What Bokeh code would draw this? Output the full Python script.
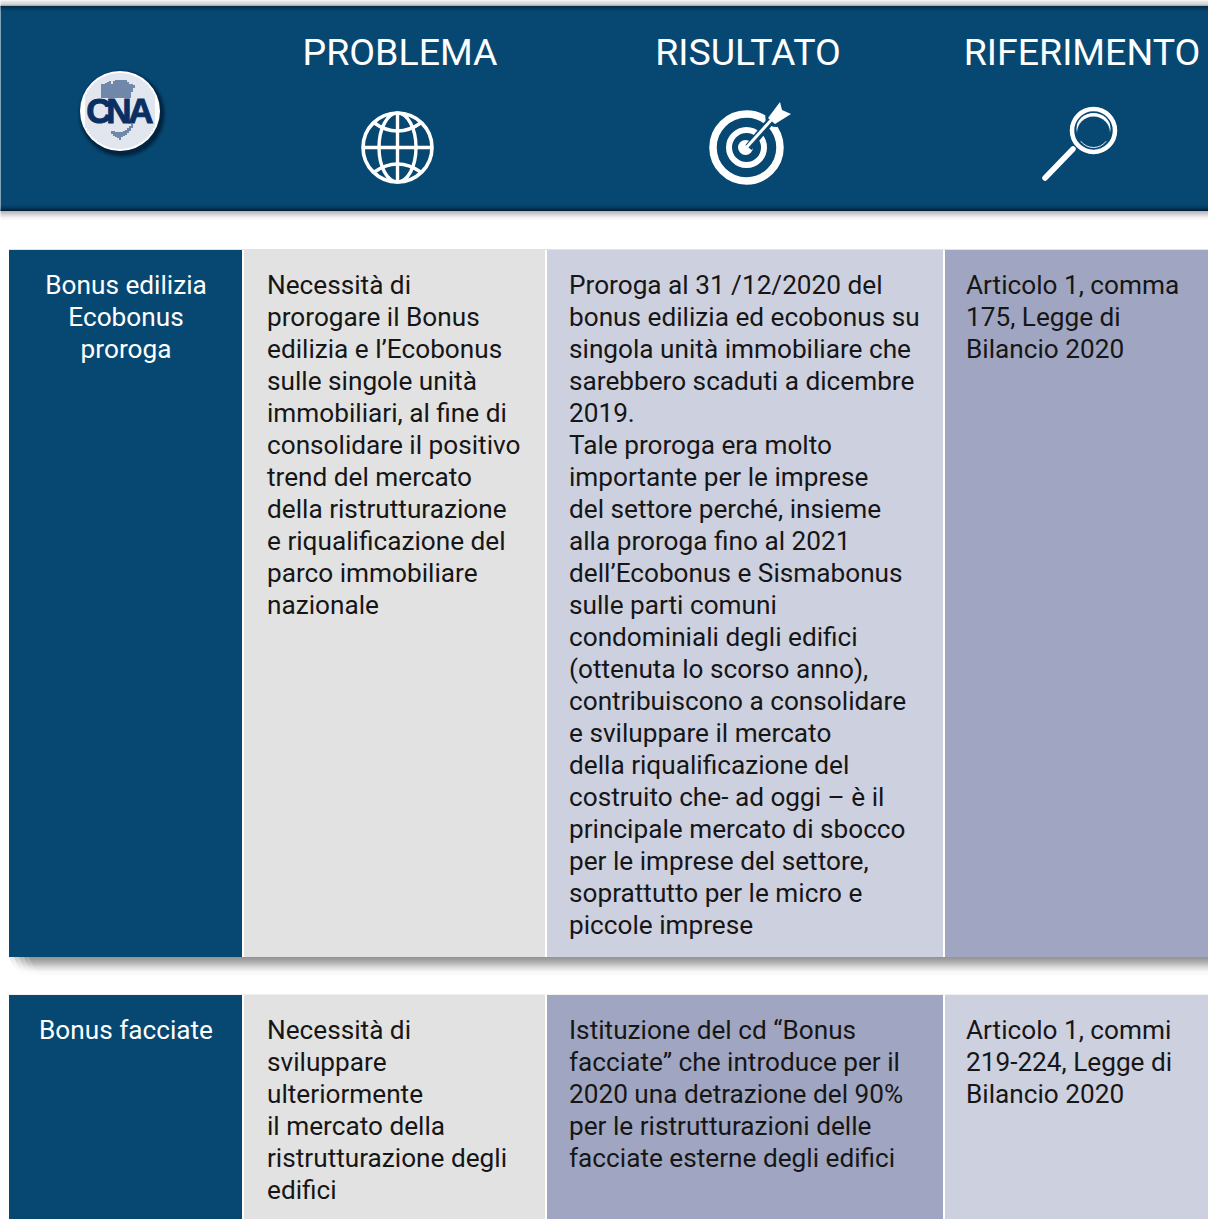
from bokeh.plotting import figure
from bokeh.embed import file_html
from bokeh.resources import INLINE
from bokeh.core.properties import value

FONT = "Roboto"
NAVY = "#074872"
GREY = "#e2e2e2"
LIGHT = "#cdd0df"
MID = "#a0a6c1"

headers = ["PROBLEMA", "RISULTATO", "RIFERIMENTO"]
header_x = [400, 748, 1082]

col_edges = [(9, 242), (244, 545), (547, 943), (945, 1209)]
row_edges = [(250, 957), (995, 1220)]
row_colors = [[NAVY, GREY, LIGHT, MID], [NAVY, GREY, MID, LIGHT]]

row1_c1 = ["Bonus edilizia", "Ecobonus", "proroga"]
row1_c2 = ["Necessità di", "prorogare il Bonus", "edilizia  e l’Ecobonus", "sulle singole unità",
           "immobiliari, al fine di", "consolidare il positivo", "trend del mercato",
           "della ristrutturazione", "e riqualificazione del", "parco immobiliare", "nazionale"]
row1_c3 = ["Proroga al 31 /12/2020 del", "bonus edilizia ed ecobonus su", "singola unità immobiliare che",
           "sarebbero scaduti a dicembre", "2019.", "Tale proroga era molto", "importante per le imprese",
           "del settore perché, insieme", "alla proroga fino al 2021", "dell’Ecobonus e Sismabonus",
           "sulle parti comuni", "condominiali degli edifici", "(ottenuta lo scorso anno),",
           "contribuiscono a consolidare", "e sviluppare il mercato", "della riqualificazione del",
           "costruito che- ad oggi – è il", "principale mercato di sbocco", "per le imprese del settore,",
           "soprattutto per le micro e", "piccole imprese"]
row1_c4 = ["Articolo 1, comma", "175, Legge di", "Bilancio 2020"]
row2_c1 = ["Bonus facciate"]
row2_c2 = ["Necessità di", "sviluppare", "ulteriormente", "il mercato della", "ristrutturazione degli", "edifici"]
row2_c3 = ["Istituzione del cd “Bonus", "facciate” che introduce per il", "2020 una detrazione del 90%",
           "per le ristrutturazioni delle", "facciate esterne degli edifici"]
row2_c4 = ["Articolo 1, commi", "219-224, Legge di", "Bilancio 2020"]

p = figure(width=1208, height=1219, x_range=(0.5, 1208.5), y_range=(1219.5, 0.5),
           output_backend="svg", toolbar_location=None, min_border=0,
           background_fill_color="white", border_fill_color="white", outline_line_color=None)
p.axis.visible = False
p.grid.visible = False


def strip(x0, x1, y0, y1, color, alpha):
    p.quad(left=x0, right=x1, top=y0, bottom=y1, fill_color=color, fill_alpha=alpha, line_color=None)


# shadow above the header band
for y, a in [(0, .12), (1, .13), (2, .16), (3, .2), (4, .28), (5, .42)]:
    strip(0, 1209, y, y + 1, "#404050", a)
# header band
strip(0, 1209, 6, 211, NAVY, 1)
for i, a in enumerate([.5, .38, .26, .17, .1, .05]):
    strip(0, 1209, 6 + i, 7 + i, "#001020", a)
for i, a in enumerate([.65, .45, .3, .2, .12, .06]):
    strip(0, 1209, 210 - i, 211 - i, "#000814", a)
for i, a in enumerate([.42, .36, .3, .24, .18, .13, .08, .05, .03]):
    strip(0, 1209, 211 + i, 212 + i, "#505060", a)

# shadow under the first table row, feathered at its left end
for i, a in enumerate([.6, .56, .52, .47, .43, .38, .33, .29, .24, .2, .16, .12, .09, .06, .04, .02, .01, .01]):
    for k in range(5):
        strip(9 + i / 2 + 5 * k, 1209, 957 + i, 958 + i, "#505050", a / 3.4 if k else a / 5)
strip(9, 1209, 249, 250, "#c8c8cc", .5)
strip(9, 1209, 994, 995, "#d0d0d4", .3)

# table cells
for (y0, y1), colors in zip(row_edges, row_colors):
    for (x0, x1), c in zip(col_edges, colors):
        strip(x0, x1, y0, y1, c, 1)

# header titles
p.text(x=header_x, y=[51.5] * 3, text=headers, text_font=value(FONT), text_font_size="37.5px",
       text_color="white", text_align="center", text_baseline="alphabetic")


def lines(items, x, y0, color="#161616", align="left"):
    p.text(x=[x] * len(items), y=[y0 + 32 * i for i in range(len(items))], text=items,
           text_font=value(FONT), text_font_size="26.2px", text_color=color,
           text_align=align, text_baseline="alphabetic")


lines(row1_c1, 126, 284.5, "white", "center")
lines(row1_c2, 267, 284.5)
lines(row1_c3, 569, 284.5)
lines(row1_c4, 966, 284.5)
lines(row2_c1, 126, 1029.5, "white", "center")
lines(row2_c2, 267, 1029.5)
lines(row2_c3, 569, 1029.5)
lines(row2_c4, 966, 1029.5)

# globe icon
gx, gy = 397.5, 147.5
W = "white"
p.ellipse(x=gx, y=gy, width=69, height=69, fill_color=None, line_color=W, line_width=3.6)
p.ellipse(x=gx, y=gy, width=37, height=69, fill_color=None, line_color=W, line_width=3.4)
p.segment(x0=gx, y0=gy - 35, x1=gx, y1=gy + 35, line_color=W, line_width=3.4)
p.segment(x0=gx - 35, y0=gy, x1=gx + 35, y1=gy, line_color=W, line_width=3.4)
p.quadratic(x0=gx - 24, y0=gy - 25, x1=gx + 24, y1=gy - 25, cx=gx, cy=gy - 8, line_color=W, line_width=3.4)
p.quadratic(x0=gx - 24, y0=gy + 25, x1=gx + 24, y1=gy + 25, cx=gx, cy=gy + 8, line_color=W, line_width=3.4)

# target icon
tx, ty = 746.5, 147.5
fletch_x = [780, 782, 791, 775, 768]
fletch_y = [102, 110, 114, 124, 118]
p.ellipse(x=tx, y=ty, width=67, height=67, fill_color=None, line_color=W, line_width=7.5)
p.ellipse(x=tx, y=ty, width=35, height=35, fill_color=None, line_color=W, line_width=6)
p.ellipse(x=tx - 1, y=ty, width=15, height=15, fill_color=W, line_color=None)
p.segment(x0=tx + 2, y0=ty, x1=773, y1=118, line_color=NAVY, line_width=8)
p.patch(x=fletch_x, y=fletch_y, fill_color=NAVY, line_color=NAVY, line_width=7)
p.patch(x=fletch_x, y=fletch_y, fill_color=W, line_color=None)
p.segment(x0=tx - 1, y0=ty + 1, x1=773, y1=118, line_color=W, line_width=3)

# magnifier icon
mx, my = 1093.5, 130.5
p.segment(x0=1073, y0=149, x1=1045, y1=178, line_color=W, line_width=5.5, line_cap="round")
p.ellipse(x=mx, y=my, width=43, height=43, fill_color=NAVY, line_color=W, line_width=4.5)
p.ellipse(x=mx, y=my - 2, width=34, height=31, fill_color=W, line_color=None)
p.ellipse(x=mx, y=my + 2, width=33, height=32, fill_color=NAVY, line_color=None)
p.arc(x=mx, y=my + 1, radius=16, start_angle=-2.5, end_angle=-0.65, direction="anticlock",
      line_color=W, line_width=0.9)

# CNA logo
lx, ly = 120, 111
for d, a in [(10, .06), (8, .1), (6, .16), (4, .24), (2, .32)]:
    p.ellipse(x=lx + 2, y=ly + 3, width=80 + d, height=80 + d, fill_color="#001226", fill_alpha=a, line_color=None)
p.ellipse(x=lx, y=ly, width=80, height=80, fill_color="white", line_color=None)
for x in range(86, 155, 2):
    h = (38 ** 2 - (x - lx) ** 2) ** .5
    p.segment(x0=x, y0=ly - h, x1=x, y1=ly + h, line_color="#c4cede", line_width=1)
map_x = [102, 104, 106, 108, 110, 112, 114, 116, 118, 120, 122, 124, 126, 128, 130, 132, 134]
map_y0 = [84, 84, 83, 82, 81, 84, 81, 80, 80, 80, 80, 80, 80, 82, 84, 84, 85]
map_y1 = [98, 98, 98, 98, 98, 98, 98, 98, 98, 98, 98, 98, 98, 98, 98, 92, 88]
p.segment(x0=map_x, y0=map_y0, x1=map_x, y1=map_y1, line_color="#3f5f8c", line_width=1.4)
isl_x = [112, 114, 116, 118, 120, 122, 124, 126, 128, 130, 132]
isl_y0 = [131, 131, 132, 132, 132, 132, 131, 130, 128, 126, 124]
isl_y1 = [134, 136, 137, 138, 140, 137, 136, 135, 133, 131, 128]
p.segment(x0=isl_x, y0=isl_y0, x1=isl_x, y1=isl_y1, line_color="#3f5f8c", line_width=1.4)
p.text(x=[99, 119, 141], y=[110.5] * 3, text=["C", "N", "A"], text_font=value("Liberation Sans"),
       text_font_style="bold", text_font_size="35px", text_color="#0a2f63",
       text_align="center", text_baseline="alphabetic", text_outline_color="#0a2f63")

open("out.html", "w").write(file_html(p, INLINE))
